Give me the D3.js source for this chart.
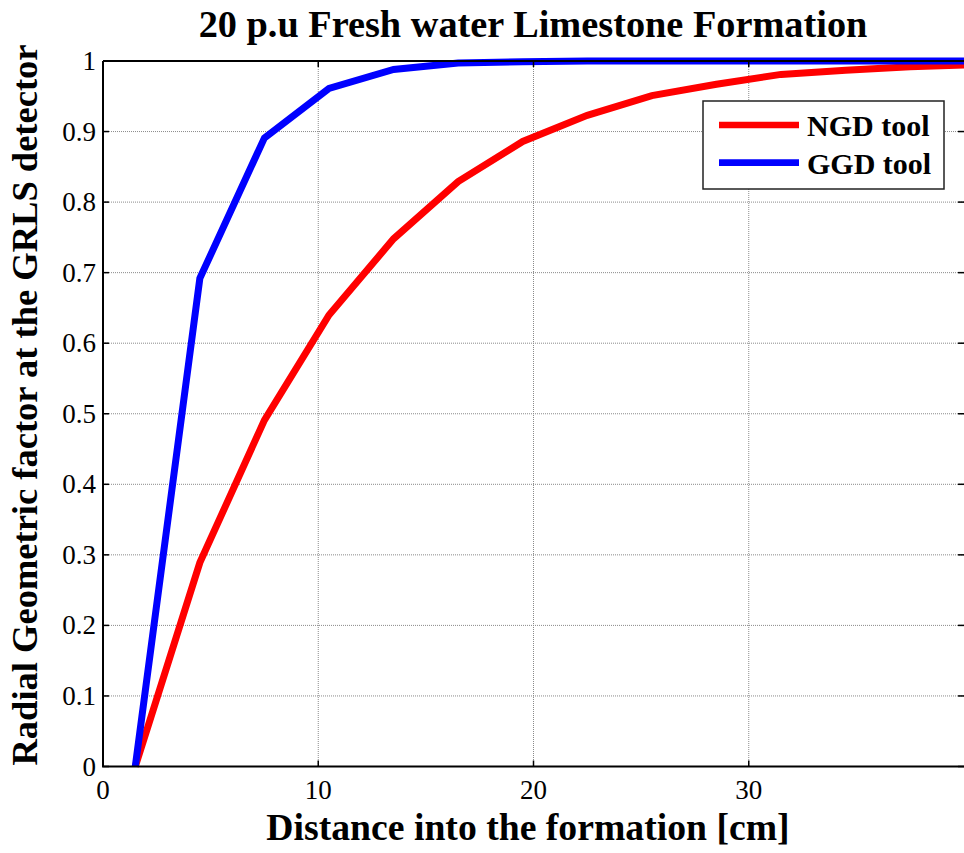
<!DOCTYPE html>
<html lang="en">
<head>
  <meta charset="UTF-8" />
  <title>20 p.u Fresh water Limestone Formation</title>
  <style>
    body { margin: 0; background: #fff; }
    svg { display: block; }
    text { font-family: "Liberation Serif", "Times New Roman", serif; fill: #000; }
    .grid line { stroke: #8a8a8a; stroke-width: 1; stroke-dasharray: 1,1; }
    .series { fill: none; stroke-width: 7; stroke-linejoin: miter; }
  </style>
  <script src="https://d3js.org/d3.v7.min.js"></script>
</head>
<body>
  <svg id="chart" width="964" height="853"></svg>
  <script>
    // ---------- data ----------
    const distance = [1.5, 4.5, 7.5, 10.5, 13.5, 16.5, 19.5, 22.5, 25.5, 28.5, 31.5, 34.5, 37.5, 40.5];
    const ngd = [0, 0.289, 0.491, 0.640, 0.748, 0.829, 0.886, 0.923, 0.951, 0.967, 0.981, 0.987, 0.992, 0.995];
    const ggd = [0, 0.692, 0.891, 0.961, 0.988, 0.997, 0.999, 1, 1, 1, 1, 1, 1, 1];
    const seriesNames = ["NGD tool", "GGD tool"];
    const seriesColors = ["#ff0000", "#0000ff"];
    const xTicks = [0, 10, 20, 30];
    const yTicks = [0, 0.1, 0.2, 0.3, 0.4, 0.5, 0.6, 0.7, 0.8, 0.9, 1];

    const svg = d3.select("#chart");
    const pl = 103, pr = 964, pt = 61, pb = 766.5;

    const x = d3.scaleLinear().domain([0, 40]).range([pl, pr]);
    const y = d3.scaleLinear().domain([0, 1]).range([pb, pt]);

    // grid
    const grid = svg.append("g").attr("class", "grid");
    grid.selectAll("line.v").data(xTicks.filter(d => d > 0)).enter().append("line")
      .attr("x1", d => x(d)).attr("x2", d => x(d)).attr("y1", pt).attr("y2", pb);
    grid.selectAll("line.h").data(yTicks.filter(d => d > 0 && d < 1)).enter().append("line")
      .attr("x1", pl).attr("x2", pr).attr("y1", d => y(d)).attr("y2", d => y(d));

    // clip horizontally only, so the line at y=1 keeps its full width
    svg.append("clipPath").attr("id", "clip").append("rect")
      .attr("x", pl).attr("y", 0).attr("width", pr - pl).attr("height", 853);

    const series = [ngd, ggd];
    const line = d3.line().x((d, i) => x(distance[i])).y(d => y(d));
    svg.append("g").attr("clip-path", "url(#clip)")
      .selectAll("path").data(series).enter().append("path")
      .attr("class", "series")
      .attr("stroke", (d, i) => seriesColors[i])
      .attr("d", line);

    // axes box
    const axisG = svg.append("g");
    axisG.append("path")
      .attr("d", `M${pl},${pt}H${pr}M${pl},${pt}V${pb}H${pr}`)
      .attr("fill", "none").attr("stroke", "#000").attr("stroke-width", 2);

    // inward ticks (bottom/top and left/right)
    const tl = 6;
    xTicks.forEach(t => {
      axisG.append("line").attr("x1", x(t)).attr("x2", x(t)).attr("y1", pb).attr("y2", pb - tl)
        .attr("stroke", "#000").attr("stroke-width", 1.5);
      axisG.append("line").attr("x1", x(t)).attr("x2", x(t)).attr("y1", pt).attr("y2", pt + tl)
        .attr("stroke", "#000").attr("stroke-width", 1.5);
    });
    yTicks.forEach(t => {
      axisG.append("line").attr("x1", pl).attr("x2", pl + tl).attr("y1", y(t)).attr("y2", y(t))
        .attr("stroke", "#000").attr("stroke-width", 1.5);
      axisG.append("line").attr("x1", pr - tl).attr("x2", pr).attr("y1", y(t)).attr("y2", y(t))
        .attr("stroke", "#000").attr("stroke-width", 1.5);
    });

    // tick labels
    svg.append("g").selectAll("text").data(xTicks).enter().append("text")
      .attr("x", d => x(d)).attr("y", 799)
      .attr("text-anchor", "middle").attr("font-size", 27)
      .text(d => d);
    svg.append("g").selectAll("text").data(yTicks).enter().append("text")
      .attr("x", 96).attr("y", d => y(d) + 9)
      .attr("text-anchor", "end").attr("font-size", 27)
      .text(d => d3.format("~g")(d));

    // titles
    svg.append("text").attr("x", 533).attr("y", 37)
      .attr("text-anchor", "middle").attr("font-size", 38.3).attr("font-weight", "bold")
      .text("20 p.u Fresh water Limestone Formation");
    svg.append("text").attr("x", 528).attr("y", 840)
      .attr("text-anchor", "middle").attr("font-size", 37.7).attr("font-weight", "bold")
      .text("Distance into the formation [cm]");
    svg.append("text")
      .attr("transform", "translate(37,405) rotate(-90)")
      .attr("text-anchor", "middle").attr("font-size", 36.5).attr("font-weight", "bold")
      .text("Radial Geometric factor at the GRLS detector");

    // legend
    const lg = svg.append("g");
    lg.append("rect").attr("x", 703).attr("y", 101).attr("width", 241).attr("height", 88)
      .attr("fill", "#fff").attr("stroke", "#222").attr("stroke-width", 1.5);
    seriesNames.forEach((name, i) => {
      const cy = 125 + i * 37.7;
      lg.append("line").attr("x1", 719).attr("x2", 799).attr("y1", cy).attr("y2", cy)
        .attr("stroke", seriesColors[i]).attr("stroke-width", 6.7);
      lg.append("text").attr("x", 807).attr("y", cy + 11)
        .attr("font-size", 30).attr("font-weight", "bold").text(name);
    });
  </script>
</body>
</html>
